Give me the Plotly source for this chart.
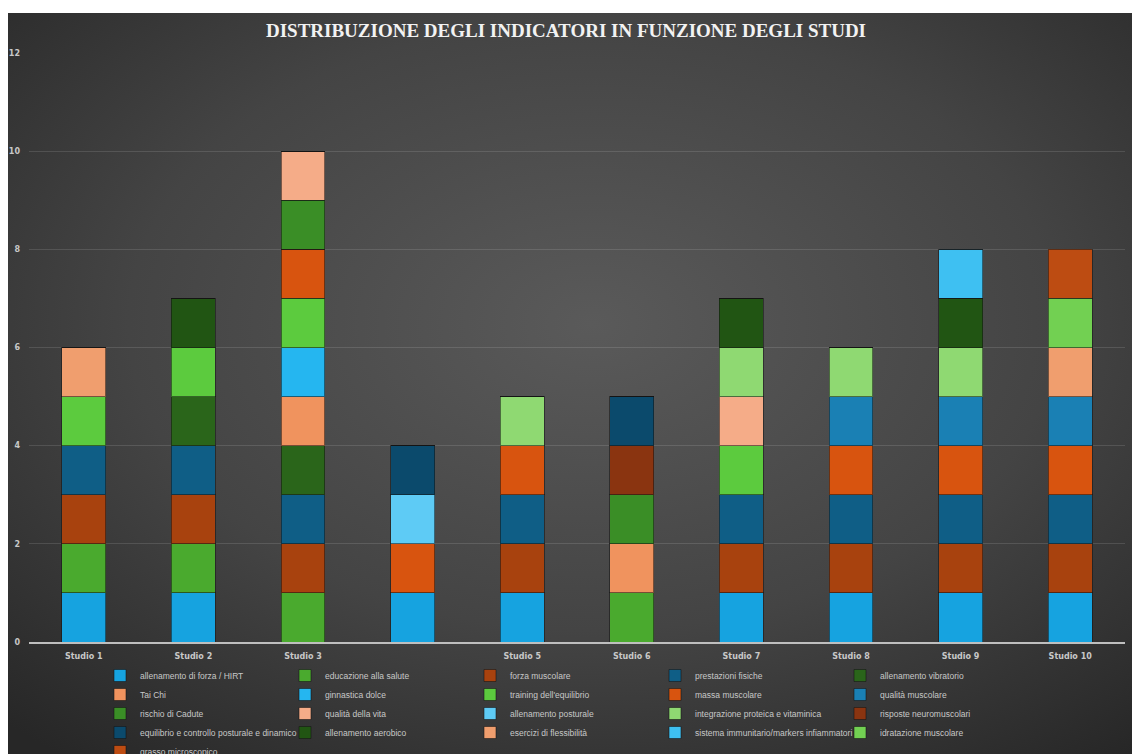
import base64
import plotly.graph_objects as go

studies = ["Studio 1", "Studio 2", "Studio 3", "Studio 4", "Studio 5",
           "Studio 6", "Studio 7", "Studio 8", "Studio 9", "Studio 10"]
tick_labels = ["Studio 1", "Studio 2", "Studio 3", "", "Studio 5",
               "Studio 6", "Studio 7", "Studio 8", "Studio 9", "Studio 10"]

indicators = [
    "allenamento di forza / HIRT", "educazione alla salute", "forza muscolare",
    "prestazioni fisiche", "allenamento vibratorio", "Tai Chi", "ginnastica dolce",
    "training dell'equilibrio", "massa muscolare", "qualità muscolare",
    "rischio di Cadute", "qualità della vita", "allenamento posturale",
    "integrazione proteica e vitaminica", "risposte neuromuscolari",
    "equilibrio e controllo posturale e dinamico", "allenamento aerobico",
    "esercizi di flessibilità", "sistema immunitario/markers infiammatori",
    "idratazione muscolare", "grasso microscopico",
]

# value of each indicator per study (Studio 1 ... Studio 10)
v_forza_hirt      = [1, 1, 0, 1, 1, 0, 1, 1, 1, 1]
v_educazione      = [1, 1, 1, 0, 0, 1, 0, 0, 0, 0]
v_forza_musc      = [1, 1, 1, 0, 1, 0, 1, 1, 1, 1]
v_prestazioni     = [1, 1, 1, 0, 1, 0, 1, 1, 1, 1]
v_vibratorio      = [0, 1, 1, 0, 0, 0, 0, 0, 0, 0]
v_taichi          = [0, 0, 1, 0, 0, 1, 0, 0, 0, 0]
v_ginnastica      = [0, 0, 1, 0, 0, 0, 0, 0, 0, 0]
v_training_eq     = [1, 1, 1, 0, 0, 0, 1, 0, 0, 0]
v_massa           = [0, 0, 1, 1, 1, 0, 0, 1, 1, 1]
v_qualita_musc    = [0, 0, 0, 0, 0, 0, 0, 1, 1, 1]
v_cadute          = [0, 0, 1, 0, 0, 1, 0, 0, 0, 0]
v_qualita_vita    = [0, 0, 1, 0, 0, 0, 1, 0, 0, 0]
v_posturale       = [0, 0, 0, 1, 0, 0, 0, 0, 0, 0]
v_integrazione    = [0, 0, 0, 0, 1, 0, 1, 1, 1, 0]
v_neuromusc       = [0, 0, 0, 0, 0, 1, 0, 0, 0, 0]
v_equilibrio      = [0, 0, 0, 1, 0, 1, 0, 0, 0, 0]
v_aerobico        = [0, 1, 0, 0, 0, 0, 1, 0, 1, 0]
v_flessibilita    = [1, 0, 0, 0, 0, 0, 0, 0, 0, 1]
v_immunitario     = [0, 0, 0, 0, 0, 0, 0, 0, 1, 0]
v_idratazione     = [0, 0, 0, 0, 0, 0, 0, 0, 0, 1]
v_grasso          = [0, 0, 0, 0, 0, 0, 0, 0, 0, 1]

series_values = [
    v_forza_hirt, v_educazione, v_forza_musc, v_prestazioni, v_vibratorio,
    v_taichi, v_ginnastica, v_training_eq, v_massa, v_qualita_musc,
    v_cadute, v_qualita_vita, v_posturale, v_integrazione, v_neuromusc,
    v_equilibrio, v_aerobico, v_flessibilita, v_immunitario, v_idratazione,
    v_grasso,
]

colors = [
    "#16A3E0", "#4AAA2E", "#A8420E", "#0F5E86", "#2A651A", "#F0935E",
    "#25B6F0", "#5CCB3E", "#D8540F", "#1A80B4", "#3A8E26", "#F5AC88",
    "#5ECBF5", "#8FD972", "#8A3410", "#0B4A6C", "#215513", "#F09E6E",
    "#3EC0F2", "#72D052", "#BD4C12",
]

W, H = 1132, 754
ML, MR, MT, MB = 29, 7, 53, 112
PW, PH = W - ML - MR, H - MT - MB

fig = go.Figure()
for name, vals, col in zip(indicators, series_values, colors):
    fig.add_trace(go.Bar(
        x=studies, y=vals, name=name,
        marker=dict(color=col, line=dict(color="rgba(20,20,20,0.55)", width=1)),
    ))

# radial gradient background (dark chart area)
svg = (
    '<svg xmlns="http://www.w3.org/2000/svg" width="1124" height="741" '
    'viewBox="0 0 1124 741" preserveAspectRatio="none">'
    '<defs><radialGradient id="g" cx="0.52" cy="0.42" r="0.75">'
    '<stop offset="0" stop-color="#5A5A5A"/>'
    '<stop offset="0.55" stop-color="#444444"/>'
    '<stop offset="1" stop-color="#272727"/>'
    '</radialGradient></defs>'
    '<rect width="1124" height="741" fill="url(#g)"/></svg>'
)
src = "data:image/svg+xml;base64," + base64.b64encode(svg.encode()).decode()
bx0, by0 = 8, 13
fig.add_layout_image(dict(
    source=src, xref="paper", yref="paper",
    x=(bx0 - ML) / PW, y=(H - MB - by0) / PH,
    sizex=(W - bx0) / PW, sizey=(H - by0) / PH,
    xanchor="left", yanchor="top", sizing="stretch", layer="below",
))

fig.update_layout(
    width=W, height=H,
    barmode="stack", bargap=0.6,
    paper_bgcolor="white", plot_bgcolor="rgba(0,0,0,0)",
    margin=dict(l=ML, r=MR, t=MT, b=MB, autoexpand=False),
    title=dict(
        text="<b>DISTRIBUZIONE DEGLI INDICATORI IN FUNZIONE DEGLI STUDI</b>",
        x=0.5, xanchor="center", y=1 - 30 / H, yanchor="middle",
        font=dict(family="Liberation Serif", size=19, color="#F2F2F2"),
    ),
    xaxis=dict(
        tickmode="array", tickvals=studies, ticktext=tick_labels,
        tickfont=dict(family="DejaVu Sans", size=8, color="#C8C8C8", weight="bold"),
        ticklabelstandoff=6,
        showline=True, linecolor="#BFBFBF", linewidth=1.5,
        showgrid=False, ticks="", fixedrange=True,
    ),
    yaxis=dict(
        range=[0, 12], tickvals=[0, 2, 4, 6, 8, 10, 12],
        tickfont=dict(family="DejaVu Sans", size=8, color="#C8C8C8", weight="bold"),
        ticklabelstandoff=8,
        showgrid=True, gridcolor="rgba(255,255,255,0.12)", gridwidth=1,
        zeroline=False, showline=False, ticks="",
    ),
    legend=dict(
        orientation="h", x=(100 - ML) / PW, xanchor="left",
        y=-(661 - (H - MB)) / PH, yanchor="top",
        entrywidth=140, entrywidthmode="pixels",
        font=dict(family="Liberation Sans", size=8.5, color="#C8C8C8"),
        bgcolor="rgba(0,0,0,0)", traceorder="normal",
        itemwidth=30,
    ),
    showlegend=True,
)

fig.write_html("out.html")
